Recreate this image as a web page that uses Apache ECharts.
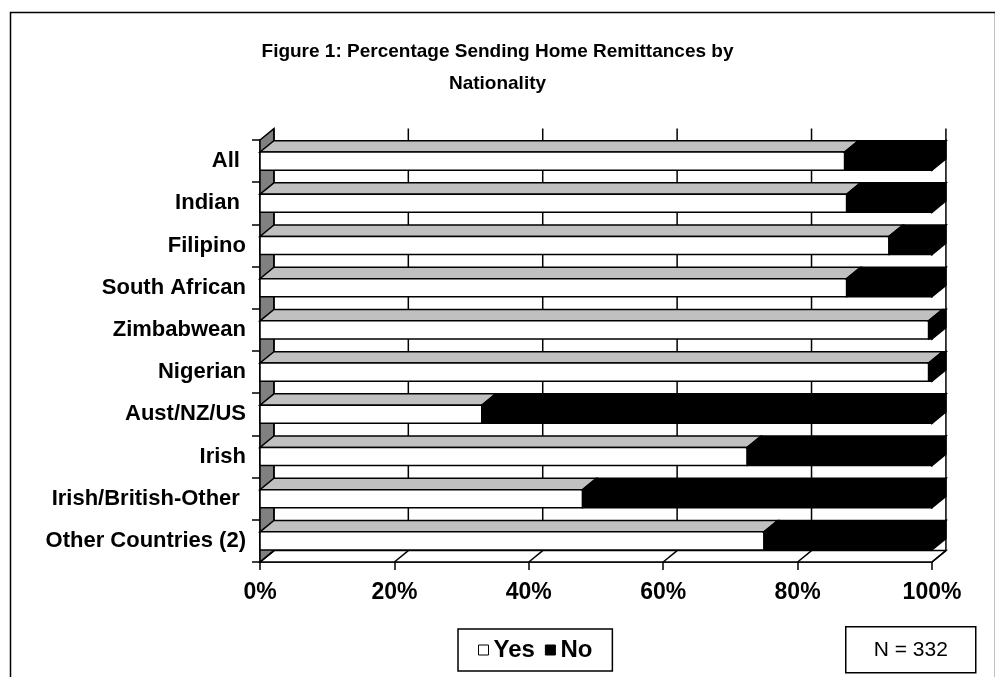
<!DOCTYPE html>
<html>
<head>
<meta charset="utf-8">
<title>Percentage Sending Home Remittances by Nationality</title>
<script src="https://cdn.jsdelivr.net/npm/echarts@6.0.0/dist/echarts.min.js"></script>
<style>
  html, body { margin: 0; padding: 0; background: #fff; }
  #chart { width: 995px; height: 677px; }
</style>
</head>
<body>
<div id="chart"></div>
<script>
// data (percent of respondents)
const categories = ['All ', 'Indian ', 'Filipino', 'South African', 'Zimbabwean', 'Nigerian', 'Aust/NZ/US', 'Irish', 'Irish/British-Other ', 'Other Countries (2)']
const yesValues = [87, 87.3, 93.6, 87.3, 99.5, 99.5, 33, 72.5, 48, 75]
const noValues = [13, 12.7, 6.4, 12.7, 0.5, 0.5, 67, 27.5, 52, 25]
const tickValues = [0, 20, 40, 60, 80, 100]
const sampleNote = 'N = 332'

const FONT = '"Liberation Sans", Arial, sans-serif'
const LINE = 1.5

// depth of the fake 3d box, as a share of one category band
function depth(band) {
  return { dx: band * 0.33, dy: -band * 0.27 }
}

function barRenderer(frontColor, topColor, withSide) {
  return function(params, api) {
    const cat = api.value(0)
    const p0 = api.coord([api.value(1), cat])
    const p1 = api.coord([api.value(2), cat])
    const band = api.size([0, 1])[1]
    const d = depth(band)
    const h = band * 0.43
    const yT = p0[1] - h / 2
    const yB = p0[1] + h / 2
    const children = [
      {
        type: 'polygon',
        shape: { points: [[p0[0], yT], [p1[0], yT], [p1[0] + d.dx, yT + d.dy], [p0[0] + d.dx, yT + d.dy]] },
        style: { fill: topColor, stroke: '#000', lineWidth: LINE }
      },
      {
        type: 'rect',
        shape: { x: p0[0], y: yT, width: p1[0] - p0[0], height: h },
        style: { fill: frontColor, stroke: '#000', lineWidth: LINE }
      }
    ]
    if (withSide) {
      children.push({
        type: 'polygon',
        shape: { points: [[p1[0], yT], [p1[0] + d.dx, yT + d.dy], [p1[0] + d.dx, yB + d.dy], [p1[0], yB]] },
        style: { fill: '#000', stroke: '#000', lineWidth: LINE }
      })
    }
    return { type: 'group', children: children }
  }
}

// back wall, side wall, floor and gridlines
function frameRenderer(params, api) {
  const cs = params.coordSys
  const band = api.size([0, 1])[1]
  const d = depth(band)
  const L = cs.x
  const T = cs.y
  const R = cs.x + cs.width
  const B = cs.y + cs.height
  const stroke = { stroke: '#000', lineWidth: LINE }
  const children = [
    { type: 'rect', shape: { x: L + d.dx, y: T + d.dy, width: cs.width, height: cs.height }, style: { fill: '#fff' } },
    {
      type: 'polygon',
      shape: { points: [[L, B], [L + d.dx, B + d.dy], [R + d.dx, B + d.dy], [R, B]] },
      style: Object.assign({ fill: '#fff' }, stroke)
    },
    {
      type: 'polygon',
      shape: { points: [[L, T], [L + d.dx, T + d.dy], [L + d.dx, B + d.dy], [L, B]] },
      style: Object.assign({ fill: '#808080' }, stroke)
    }
  ]
  tickValues.forEach(function(v) {
    const x = api.coord([v, 0])[0]
    children.push({
      type: 'line',
      shape: { x1: x + d.dx, y1: T + d.dy, x2: x + d.dx, y2: B + d.dy },
      style: stroke
    })
    children.push({
      type: 'line',
      shape: { x1: x, y1: B, x2: x + d.dx, y2: B + d.dy },
      style: stroke
    })
  })
  return { type: 'group', children: children }
}

const yesData = categories.map(function(c, i) { return [i, 0, yesValues[i]] })
const noData = categories.map(function(c, i) { return [i, yesValues[i], yesValues[i] + noValues[i]] })

const chart = echarts.init(document.getElementById('chart'))
chart.setOption({
  animation: false,
  backgroundColor: '#fff',
  title: {
    text: 'Figure 1: Percentage Sending Home Remittances by\nNationality',
    left: 'center',
    top: 31,
    textStyle: {
      color: '#000',
      fontFamily: FONT,
      fontSize: 19,
      fontWeight: 'bold',
      lineHeight: 32
    }
  },
  legend: {
    left: 458,
    top: 629,
    padding: [9, 20],
    itemWidth: 10,
    itemHeight: 10,
    itemGap: 10,
    borderColor: '#000',
    borderWidth: LINE,
    textStyle: { color: '#000', fontFamily: FONT, fontSize: 24, fontWeight: 'bold' },
    data: [
      { name: 'Yes', icon: 'rect', itemStyle: { color: '#fff', borderColor: '#000', borderWidth: 1 } },
      { name: 'No', icon: 'rect', itemStyle: { color: '#000', borderColor: '#000', borderWidth: 1 } }
    ]
  },
  grid: {
    left: 260,
    right: 63,
    top: 140,
    bottom: 115
  },
  xAxis: {
    type: 'value',
    min: 0,
    max: 100,
    interval: 20,
    axisLine: { show: true, lineStyle: { color: '#000', width: LINE } },
    axisTick: { show: true, length: 8, lineStyle: { color: '#000', width: LINE } },
    splitLine: { show: false },
    axisLabel: {
      color: '#000',
      fontFamily: FONT,
      fontSize: 23,
      fontWeight: 'bold',
      margin: 19,
      formatter: '{value}%'
    }
  },
  yAxis: {
    type: 'category',
    inverse: true,
    data: categories,
    axisLine: { show: true, lineStyle: { color: '#000', width: LINE } },
    axisTick: { show: true, length: 8, lineStyle: { color: '#000', width: LINE } },
    axisLabel: {
      color: '#000',
      fontFamily: FONT,
      fontSize: 22,
      fontWeight: 'bold',
      margin: 14
    }
  },
  graphic: [
    {
      type: 'rect',
      left: 8,
      top: 10,
      shape: { width: 985, height: 700 },
      style: { fill: 'none', stroke: '#000', lineWidth: LINE },
      silent: true,
      z: -10
    },
    {
      type: 'group',
      left: 845,
      top: 626,
      children: [
        {
          type: 'rect',
          shape: { x: 0, y: 0, width: 130, height: 46 },
          style: { fill: '#fff', stroke: '#000', lineWidth: LINE }
        },
        {
          type: 'text',
          x: 65,
          y: 23,
          style: {
            text: sampleNote,
            fill: '#000',
            font: '21px ' + FONT,
            align: 'center',
            verticalAlign: 'middle'
          }
        }
      ]
    }
  ],
  series: [
    {
      name: 'frame',
      type: 'custom',
      silent: true,
      z: 1,
      renderItem: frameRenderer,
      encode: { x: 1, y: 0 },
      data: [[0, 0]]
    },
    {
      name: 'Yes',
      type: 'custom',
      z: 2,
      itemStyle: { color: '#fff', borderColor: '#000' },
      renderItem: barRenderer('#fff', '#c0c0c0', false),
      encode: { x: [1, 2], y: 0 },
      data: yesData
    },
    {
      name: 'No',
      type: 'custom',
      z: 3,
      itemStyle: { color: '#000' },
      renderItem: barRenderer('#000', '#000', true),
      encode: { x: [1, 2], y: 0 },
      data: noData
    }
  ]
})
</script>
</body>
</html>
